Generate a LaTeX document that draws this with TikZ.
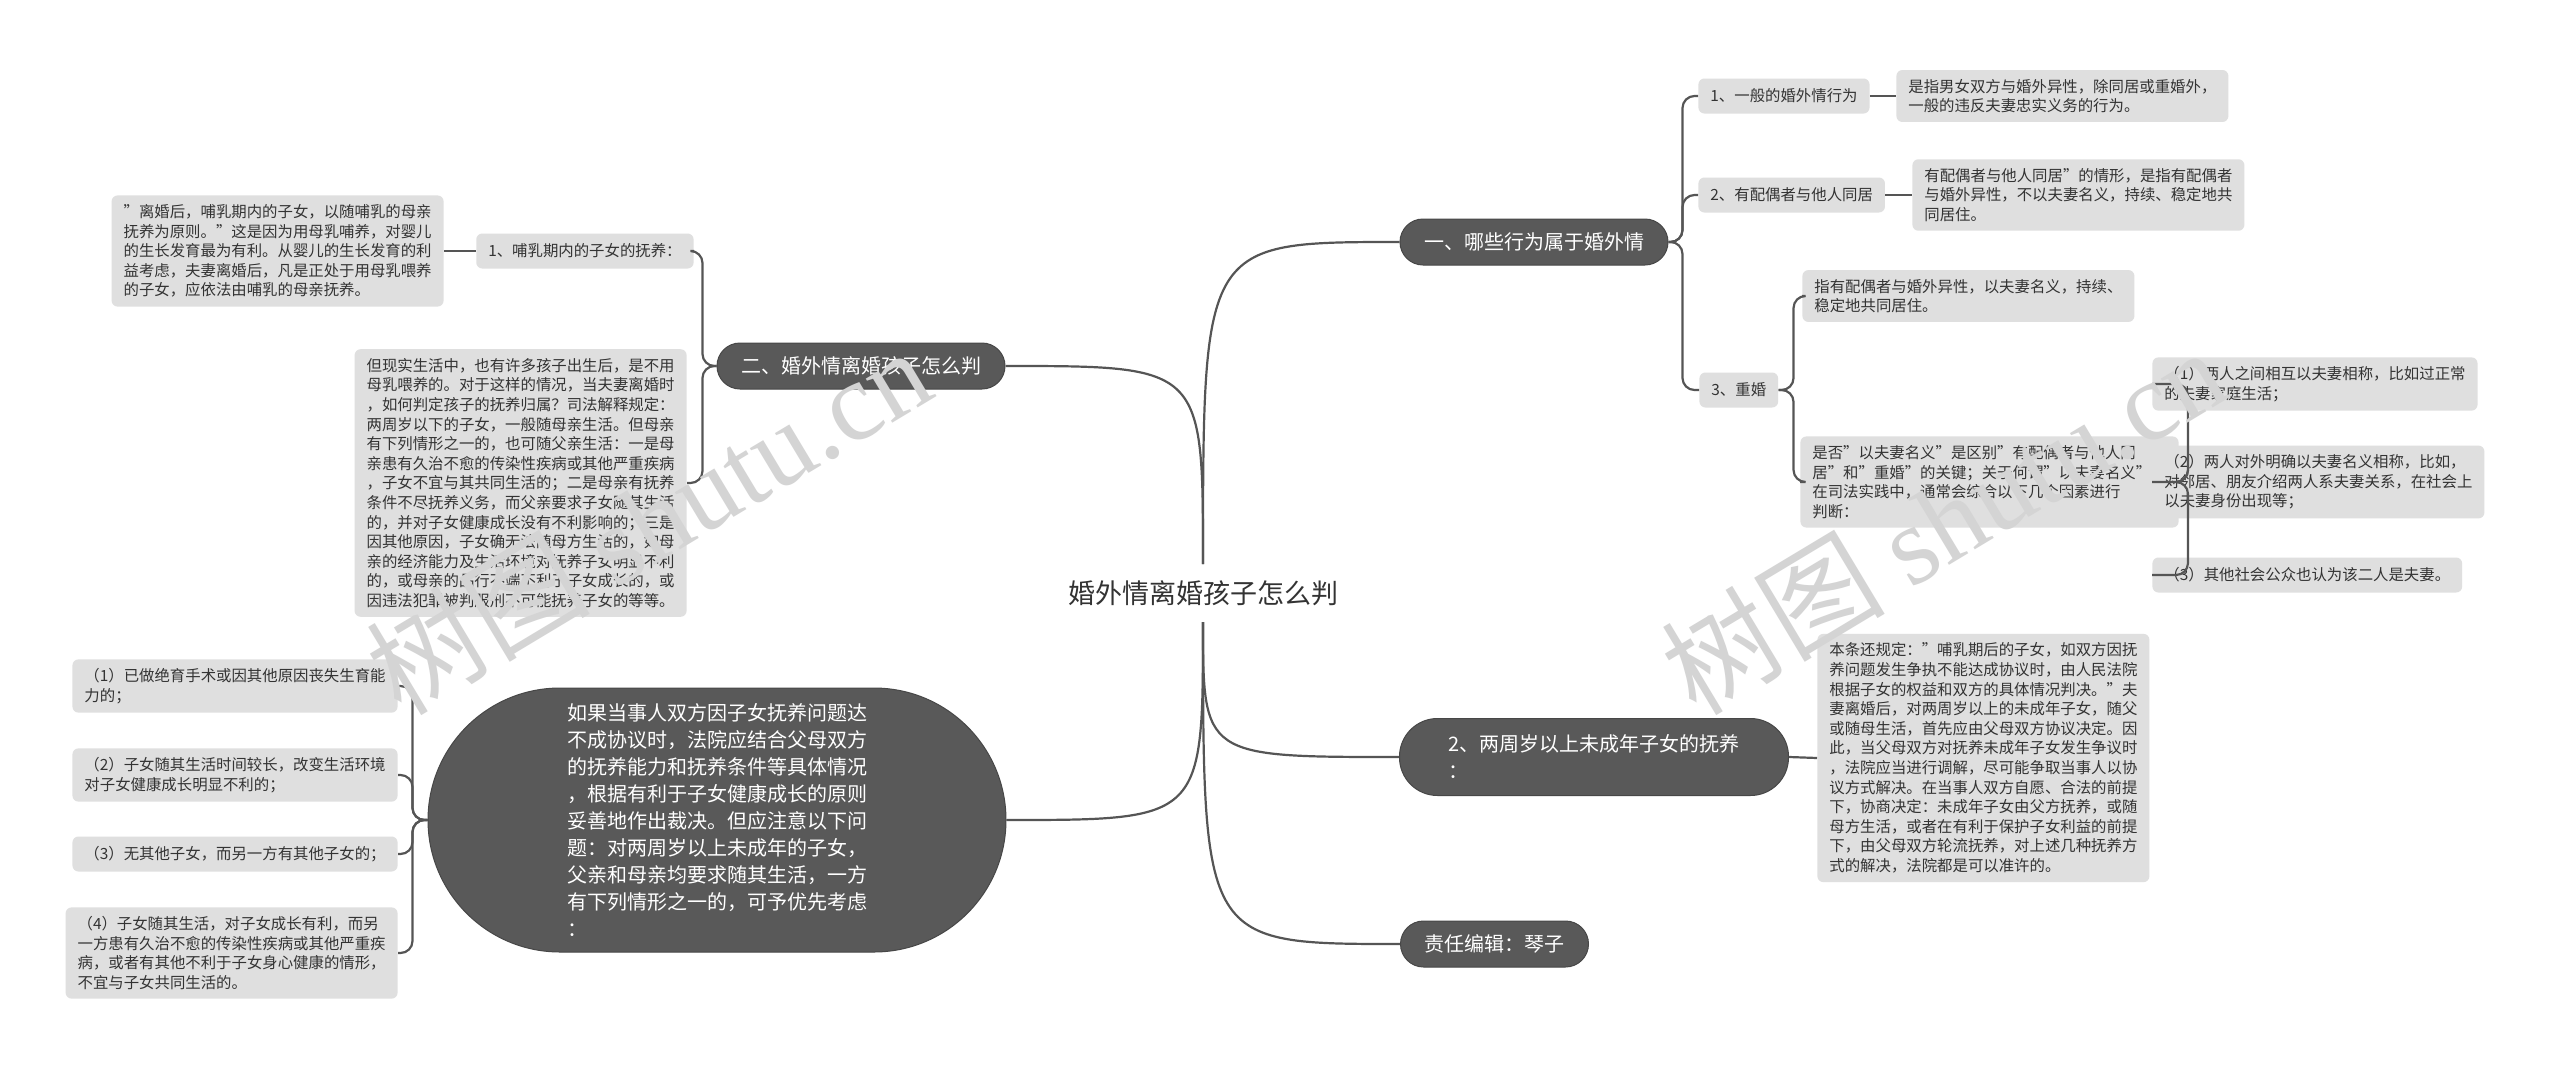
\documentclass[tikz,border=0pt]{standalone}
\usepackage{fontspec}
\setmainfont{Noto Sans CJK SC}
\newfontfamily\wmlatin{Liberation Serif}
\usetikzlibrary{calc}
\definecolor{boxgray}{HTML}{DFDFDF}
\definecolor{darkfill}{HTML}{595959}
\definecolor{darkline}{HTML}{474747}
\definecolor{txt}{HTML}{333333}
\definecolor{conn}{HTML}{555555}
\definecolor{wm}{HTML}{D4D4D4}
\begin{document}
\begin{tikzpicture}[x=0.5pt,y=-0.5pt,
  leaf/.style={fill=boxgray, rounded corners=3pt, text=txt, font=\fontsize{7.7}{9.8}\selectfont, align=left, inner xsep=6pt, inner ysep=4.5pt},
  sub/.style={leaf, minimum height=17.5pt},
  topic/.style={fill=darkfill, draw=darkline, line width=0.5pt, text=white, font=\fontsize{10}{13.5}\selectfont, rounded corners=11.5pt, minimum height=23pt, inner xsep=12pt},
  link/.style={draw=conn, line width=1.1pt},
  brk/.style={link, rounded corners=6pt},
  wmark/.style={text=wm, font=\fontsize{56}{60}\selectfont, rotate=31, inner sep=0pt}]
\fill[white] (0,0) rectangle (2560,1071);
\useasboundingbox (0,0) rectangle (2560,1071);

% root
\node[font=\fontsize{13.5}{16}\selectfont, text=txt, inner sep=8pt] (root) at (1203,593) {婚外情离婚孩子怎么判};

% right: topic 1
\node[topic] (n1) at (1534,242) {一、哪些行为属于婚外情};
\node[sub, anchor=west] (n1a) at (1698,96) {1、一般的婚外情行为};
\node[leaf, anchor=west] (n1a1) at (1896,96) {是指男女双方与婚外异性，除同居或重婚外，\\一般的违反夫妻忠实义务的行为。};
\node[sub, anchor=west] (n1b) at (1698,195) {2、有配偶者与他人同居};
\node[leaf, anchor=west] (n1b1) at (1912,195) {有配偶者与他人同居"的情形，是指有配偶者\\与婚外异性，不以夫妻名义，持续、稳定地共\\同居住。};
\node[sub, anchor=west] (n1c) at (1699,390) {3、重婚};
\node[leaf, anchor=west] (n1c1) at (1802,296) {指有配偶者与婚外异性，以夫妻名义，持续、\\稳定地共同居住。};
\node[leaf, anchor=west] (n1c2) at (1800,482) {是否"以夫妻名义"是区别"有配偶者与他人同\\居"和"重婚"的关键；关于何谓"以夫妻名义"，\\在司法实践中，通常会综合以下几个因素进行\\判断：};
\node[leaf, anchor=west] (n1c2a) at (2152,384) {（1）两人之间相互以夫妻相称，比如过正常\\的夫妻家庭生活；};
\node[leaf, anchor=west] (n1c2b) at (2152,482) {（2）两人对外明确以夫妻名义相称，比如，\\对邻居、朋友介绍两人系夫妻关系，在社会上\\以夫妻身份出现等；};
\node[sub, anchor=west] (n1c2c) at (2152,575) {（3）其他社会公众也认为该二人是夫妻。};

% right: topic 4
\node[topic, rounded corners=19pt, minimum height=38.5pt, minimum width=194.5pt, align=left] (n4) at (1594,757) {2、两周岁以上未成年子女的抚养\\：};
\node[leaf, anchor=west] (n4a) at (1817,758) {本条还规定："哺乳期后的子女，如双方因抚\\养问题发生争执不能达成协议时，由人民法院\\根据子女的权益和双方的具体情况判决。"夫\\妻离婚后，对两周岁以上的未成年子女，随父\\或随母生活，首先应由父母双方协议决定。因\\此，当父母双方对抚养未成年子女发生争议时\\，法院应当进行调解，尽可能争取当事人以协\\议方式解决。在当事人双方自愿、合法的前提\\下，协商决定：未成年子女由父方抚养，或随\\母方生活，或者在有利于保护子女利益的前提\\下，由父母双方轮流抚养，对上述几种抚养方\\式的解决，法院都是可以准许的。};

% right: topic 5
\node[topic, anchor=west] (n5) at (1400,944) {责任编辑：琴子};

% left: topic 2
\node[topic] (n2) at (861,366) {二、婚外情离婚孩子怎么判};
\node[sub, anchor=east] (n2a) at (694,251) {1、哺乳期内的子女的抚养：};
\node[leaf, anchor=east] (n2a1) at (444,251) {"离婚后，哺乳期内的子女，以随哺乳的母亲\\抚养为原则。"这是因为用母乳哺养，对婴儿\\的生长发育最为有利。从婴儿的生长发育的利\\益考虑，夫妻离婚后，凡是正处于用母乳喂养\\的子女，应依法由哺乳的母亲抚养。};
\node[leaf, anchor=east] (n2b) at (687,483) {但现实生活中，也有许多孩子出生后，是不用\\母乳喂养的。对于这样的情况，当夫妻离婚时\\，如何判定孩子的抚养归属？司法解释规定：\\两周岁以下的子女，一般随母亲生活。但母亲\\有下列情形之一的，也可随父亲生活：一是母\\亲患有久治不愈的传染性疾病或其他严重疾病\\，子女不宜与其共同生活的；二是母亲有抚养\\条件不尽抚养义务，而父亲要求子女随其生活\\的，并对子女健康成长没有不利影响的；三是\\因其他原因，子女确无法随母方生活的，如母\\亲的经济能力及生活环境对抚养子女明显不利\\的，或母亲的品行不端不利于子女成长的，或\\因违法犯罪被判服刑不可能抚养子女的等等。};

% left: topic 3
\node[topic, rounded corners=66pt, minimum height=132pt, minimum width=289pt, align=left] (n3) at (717,820) {如果当事人双方因子女抚养问题达\\不成协议时，法院应结合父母双方\\的抚养能力和抚养条件等具体情况\\，根据有利于子女健康成长的原则\\妥善地作出裁决。但应注意以下问\\题：对两周岁以上未成年的子女，\\父亲和母亲均要求随其生活，一方\\有下列情形之一的，可予优先考虑\\：};
\node[leaf, anchor=east] (n3a) at (398,686) {（1）已做绝育手术或因其他原因丧失生育能\\力的；};
\node[leaf, anchor=east] (n3b) at (398,775) {（2）子女随其生活时间较长，改变生活环境\\对子女健康成长明显不利的；};
\node[sub, anchor=east] (n3c) at (398,854) {（3）无其他子女，而另一方有其他子女的；};
\node[leaf, anchor=east] (n3d) at (398,953) {（4）子女随其生活，对子女成长有利，而另\\一方患有久治不愈的传染性疾病或其他严重疾\\病，或者有其他不利于子女身心健康的情形，\\不宜与子女共同生活的。};

% connectors from root
\draw[link] (root.north) .. controls (root.north |- n1.west) .. (n1.west);
\draw[link] (root.north) .. controls (root.north |- n2.east) .. (n2.east);
\draw[link] (root.south) .. controls (root.south |- n3.east) .. (n3.east);
\draw[link] (root.south) .. controls (root.south |- n4.west) .. (n4.west);
\draw[link] (root.south) .. controls (root.south |- n5.west) .. (n5.west);

% brackets
\foreach \ch in {n1a,n1b,n1c} \draw[brk] (n1.east) -- ++(14,0) |- (\ch.west);
\draw[link] (n1a.east) -- (n1a1.west);
\draw[link] (n1b.east) -- (n1b1.west);
\foreach \ch in {n1c1,n1c2} \draw[brk] (n1c.east) -- ++(15,0) |- (\ch.west);
\foreach \ch in {n1c2a,n1c2b,n1c2c} \draw[brk] (n1c2.east) -- ++(9,0) |- (\ch.west);
\draw[link] (n4.east) -- (n4a.west);
\foreach \ch in {n2a,n2b} \draw[brk] (n2.west) -- ++(-14,0) |- (\ch.east);
\draw[link] (n2a.west) -- (n2a1.east);
\foreach \ch in {n3a,n3b,n3c,n3d} \draw[brk] (n3.west) -- ++(-15,0) |- (\ch.east);

% watermarks
\node[wmark] (wm1) at (648,520) {树图 {\wmlatin shutu.cn}};
\node[wmark] (wm2) at (1943,520) {树图 {\wmlatin shutu.cn}};
\end{tikzpicture}
\end{document}
